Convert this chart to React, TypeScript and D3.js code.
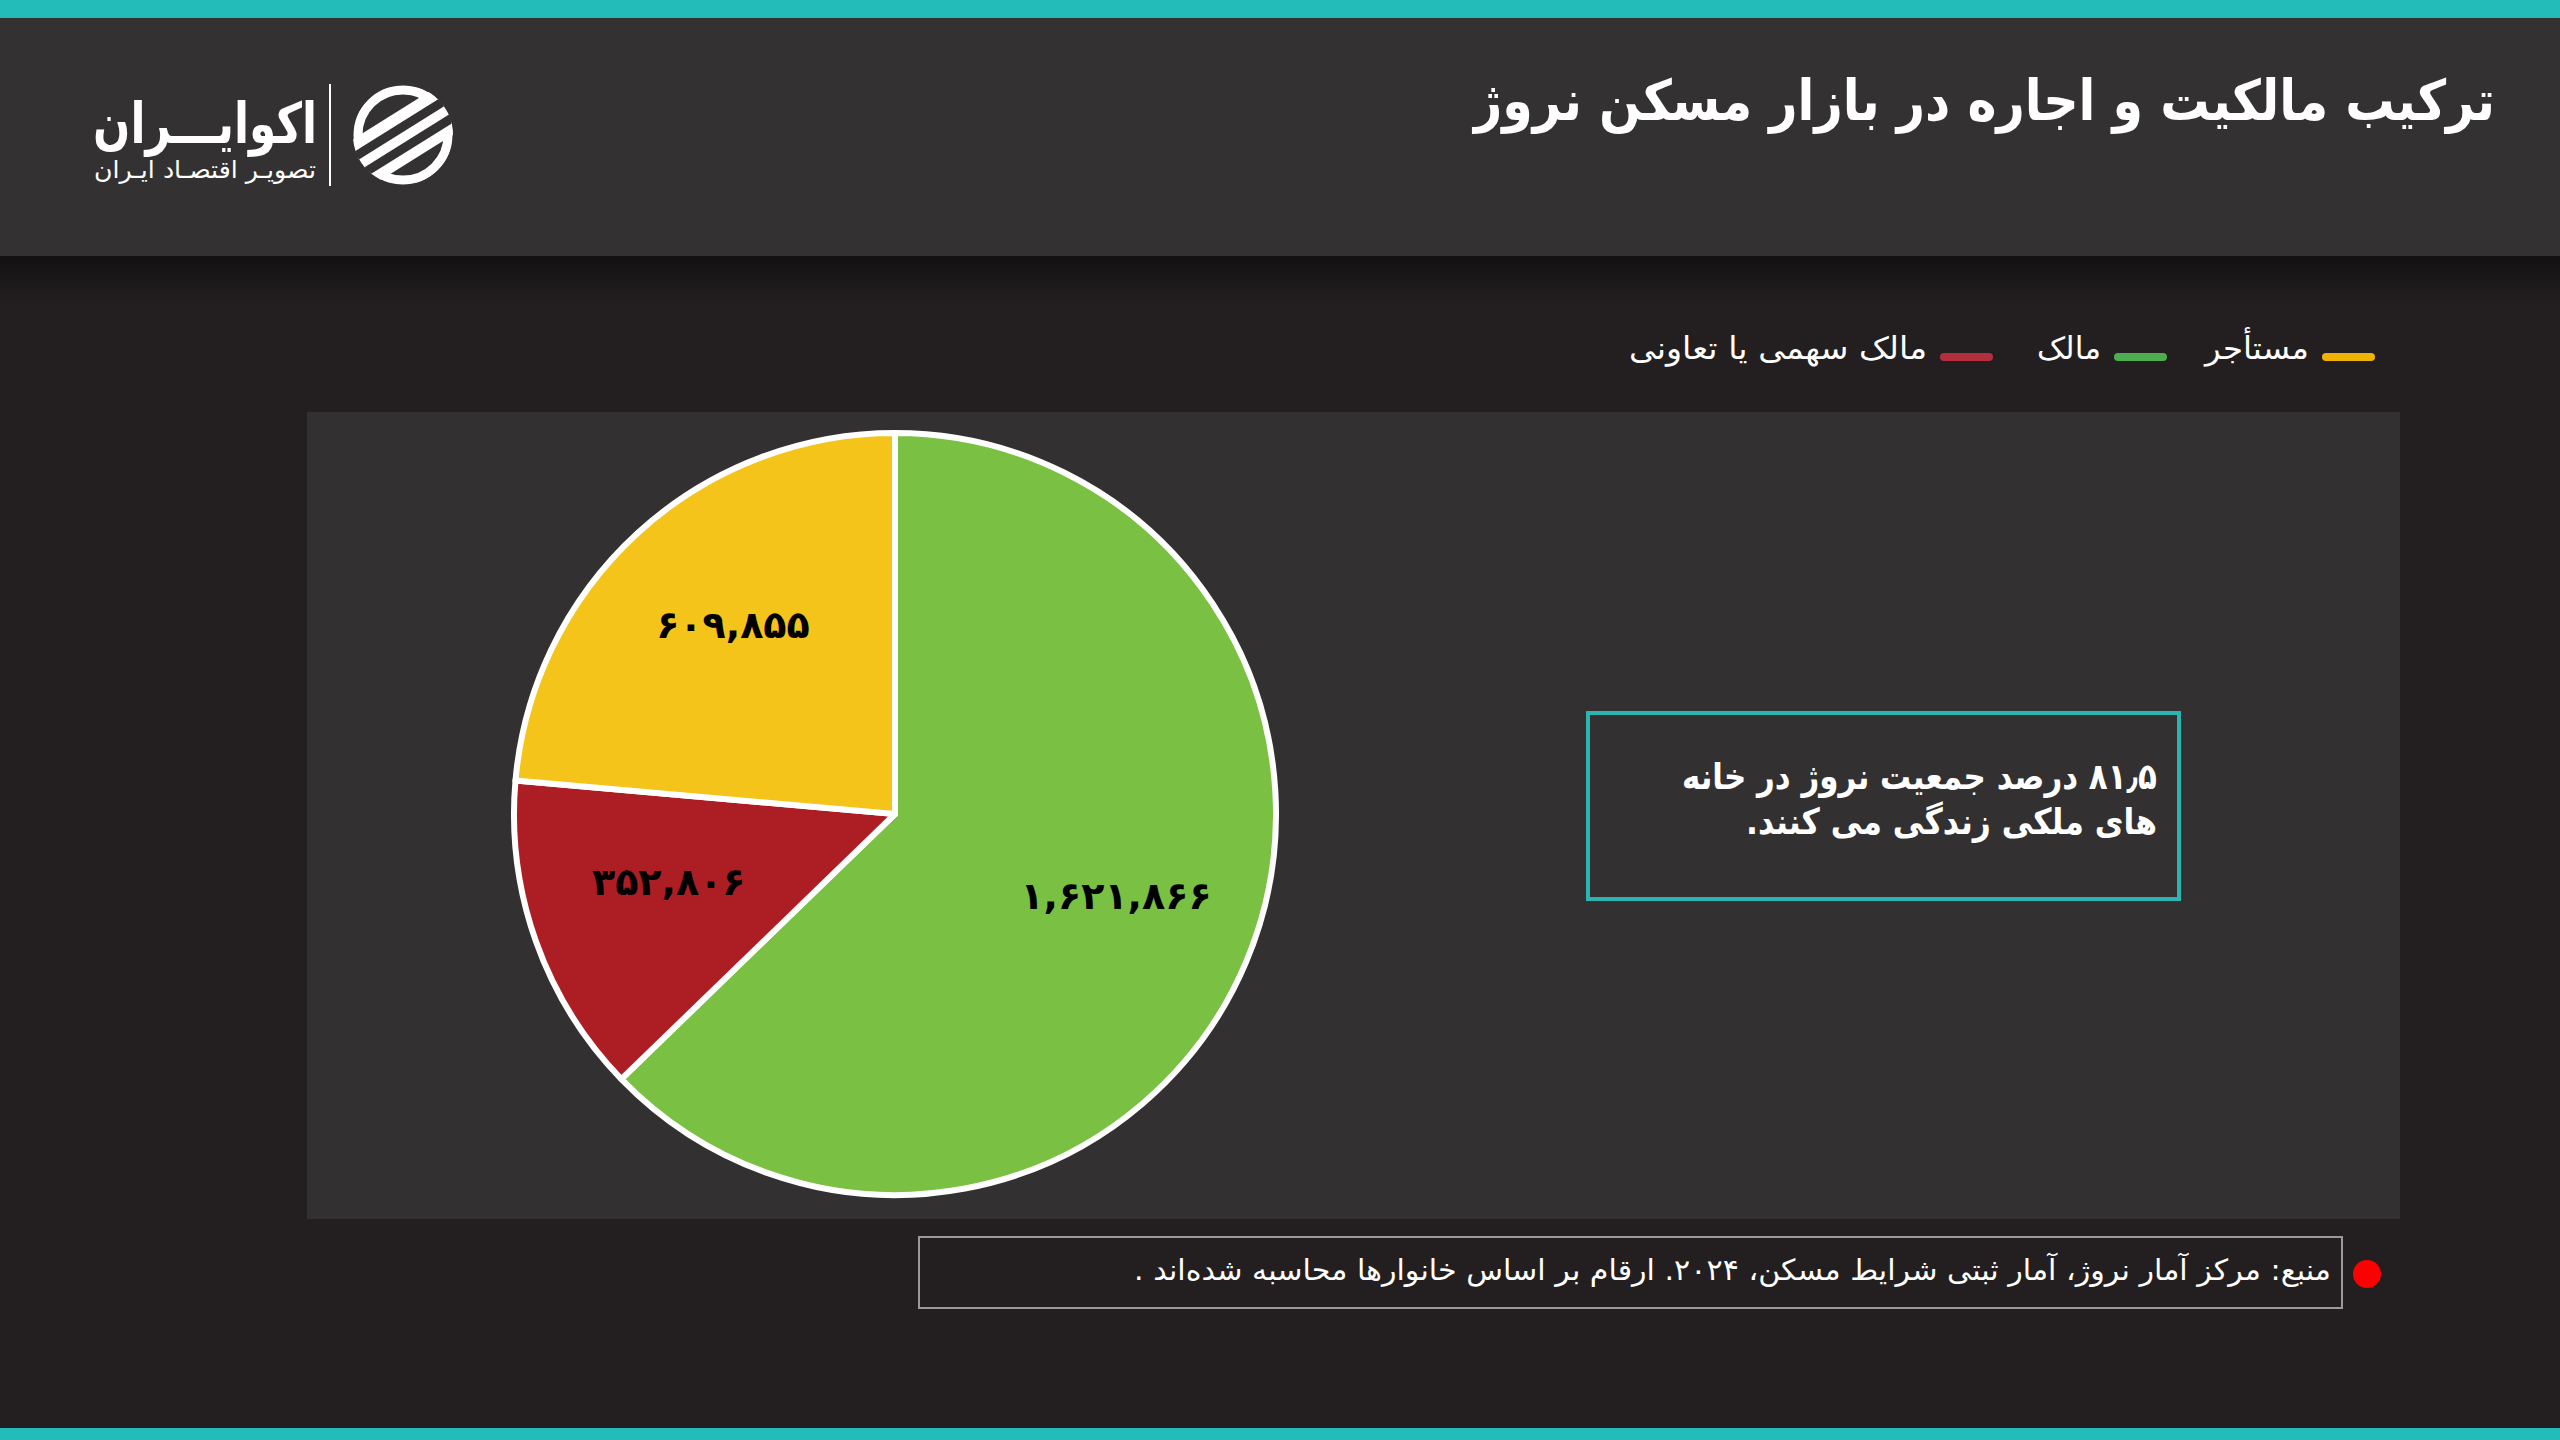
import React from "react";
import * as d3 from "d3";

const title = "ترکیب مالکیت و اجاره در بازار مسکن نروژ";
const categories = ["مالک", "مالک سهمی یا تعاونی", "مستأجر"];
const values = [1621866, 352806, 609855];
const valueLabels = ["۱,۶۲۱,۸۶۶", "۳۵۲,۸۰۶", "۶۰۹,۸۵۵"];
const sliceColors = ["#7ac143", "#ad1e24", "#f4c41a"];
const legendOrder = [2, 0, 1];
const legendColors = ["#4cae4f", "#b42f3d", "#f2b203"];
const noteLines = ["۸۱٫۵ درصد جمعیت نروژ در خانه", "های ملکی زندگی می کنند."];
const sourceText = "منبع: مرکز آمار نروژ، آمار ثبتی شرایط مسکن، ۲۰۲۴. ارقام بر اساس خانوارها محاسبه شده‌اند .";
const logoName = "اکوایـــران";
const logoSub = "تصویـر اقتصـاد ایـران";

const W = 2560;
const H = 1440;
const FONT = "'DejaVu Sans', 'Noto Sans', sans-serif";

export default function App() {
  const cx = 895;
  const cy = 814;
  const r = 381;
  const data = categories.map((c, i) => ({ c, v: values[i], label: valueLabels[i], color: sliceColors[i] }));
  const pie = d3.pie<any>().sort(null).value((d: any) => d.v).startAngle(0).endAngle(2 * Math.PI);
  const arcs = pie(data);
  const arcGen = d3.arc<any>().innerRadius(0).outerRadius(r);
  const labelArc = d3.arc<any>().innerRadius(r * 0.63).outerRadius(r * 0.63);

  const legendRight = [2375, 2167, 1993];
  const legendTextLen = [104, 64, 298];
  const noteLen = [475, 411];

  return (
    <svg width={W} height={H} viewBox={`0 0 ${W} ${H}`} style={{ position: "absolute", left: 0, top: 0, display: "block" }}>
      <defs>
        <linearGradient id="hshadow" x1="0" y1="0" x2="0" y2="1">
          <stop offset="0" stopColor="#121011" />
          <stop offset="1" stopColor="#231f20" />
        </linearGradient>
        <clipPath id="logoClip">
          <circle cx={403} cy={135} r={50} />
        </clipPath>
      </defs>
      <rect x={0} y={0} width={W} height={H} fill="#231f20" />
      {/* header */}
      <rect x={0} y={0} width={W} height={256} fill="#343132" />
      <rect x={0} y={256} width={W} height={46} fill="url(#hshadow)" />
      <rect x={0} y={0} width={W} height={18} fill="#23bcb8" />
      <rect x={0} y={1428} width={W} height={12} fill="#23bcb8" />
      <text x={2495} y={120} textAnchor="start" direction="rtl" fill="#ffffff" fontFamily={FONT} fontWeight="bold" fontSize={56} textLength={1021} lengthAdjust="spacingAndGlyphs">
        {title}
      </text>

      {/* logo */}
      <g>
        <text x={317} y={143} direction="rtl" textAnchor="start" fill="#ffffff" fontFamily={FONT} fontWeight="bold" fontSize={56} textLength={224} lengthAdjust="spacingAndGlyphs">
          {logoName}
        </text>
        <text x={316} y={178} direction="rtl" textAnchor="start" fill="#ffffff" fontFamily={FONT} fontSize={24} textLength={222} lengthAdjust="spacingAndGlyphs">
          {logoSub}
        </text>
        <line x1={330} y1={84} x2={330} y2={186} stroke="#ffffff" strokeWidth={2} />
        <g clipPath="url(#logoClip)">
          <circle cx={403} cy={135} r={45} fill="none" stroke="#ffffff" strokeWidth={9} />
          {[-22, 0, 22].map((o, i) => (
            <rect key={i} x={340} y={131 + o} width={130} height={12} fill="#ffffff" transform={`rotate(-32 403 ${137 + o})`} />
          ))}
          {[-11, 11].map((o, i) => (
            <rect key={"g" + i} x={340} y={133 + o} width={130} height={9} fill="#343132" transform={`rotate(-32 403 ${137 + o})`} />
          ))}
        </g>
      </g>

      {/* legend */}
      {legendOrder.map((idx, k) => (
        <g key={k}>
          <line x1={legendRight[k] - 49} y1={357} x2={legendRight[k] - 4} y2={357} stroke={legendColors[idx]} strokeWidth={8} strokeLinecap="round" />
          <text x={legendRight[k] - 66} y={348} dy="0.35em" direction="rtl" textAnchor="start" fill="#ffffff" fontFamily={FONT} fontSize={31} textLength={legendTextLen[k]} lengthAdjust="spacingAndGlyphs">
            {categories[idx]}
          </text>
        </g>
      ))}

      {/* panel */}
      <rect x={307} y={412} width={2093} height={807} fill="#333031" />

      {/* pie */}
      <g transform={`translate(${cx},${cy})`}>
        {arcs.map((a, i) => (
          <path key={i} d={arcGen(a) as string} fill={a.data.color} stroke="#ffffff" strokeWidth={6} strokeLinejoin="round" />
        ))}
        {arcs.map((a, i) => {
          const [lx, ly] = labelArc.centroid(a);
          return (
            <text key={"l" + i} x={lx} y={ly - 12} dy="0.35em" textAnchor="middle" fill="#000000" fontFamily={FONT} fontWeight="bold" fontSize={38}>
              {a.data.label}
            </text>
          );
        })}
      </g>

      {/* note box */}
      <rect x={1588} y={713} width={591} height={186} fill="none" stroke="#2bb5b0" strokeWidth={4} />
      {noteLines.map((t, i) => (
        <text key={i} x={2157} y={776 + i * 45} dy="0.35em" direction="rtl" textAnchor="start" fill="#ffffff" fontFamily={FONT} fontWeight="bold" fontSize={36} textLength={noteLen[i]} lengthAdjust="spacingAndGlyphs">
          {t}
        </text>
      ))}

      {/* source */}
      <rect x={919} y={1237} width={1423} height={71} fill="none" stroke="#9a9a9a" strokeWidth={2} />
      <text x={2331} y={1270} dy="0.35em" direction="rtl" textAnchor="start" fill="#ffffff" fontFamily={FONT} fontSize={29} textLength={1197} lengthAdjust="spacingAndGlyphs">
        {sourceText}
      </text>
      <circle cx={2367} cy={1274} r={14} fill="#ff0000" />
    </svg>
  );
}
